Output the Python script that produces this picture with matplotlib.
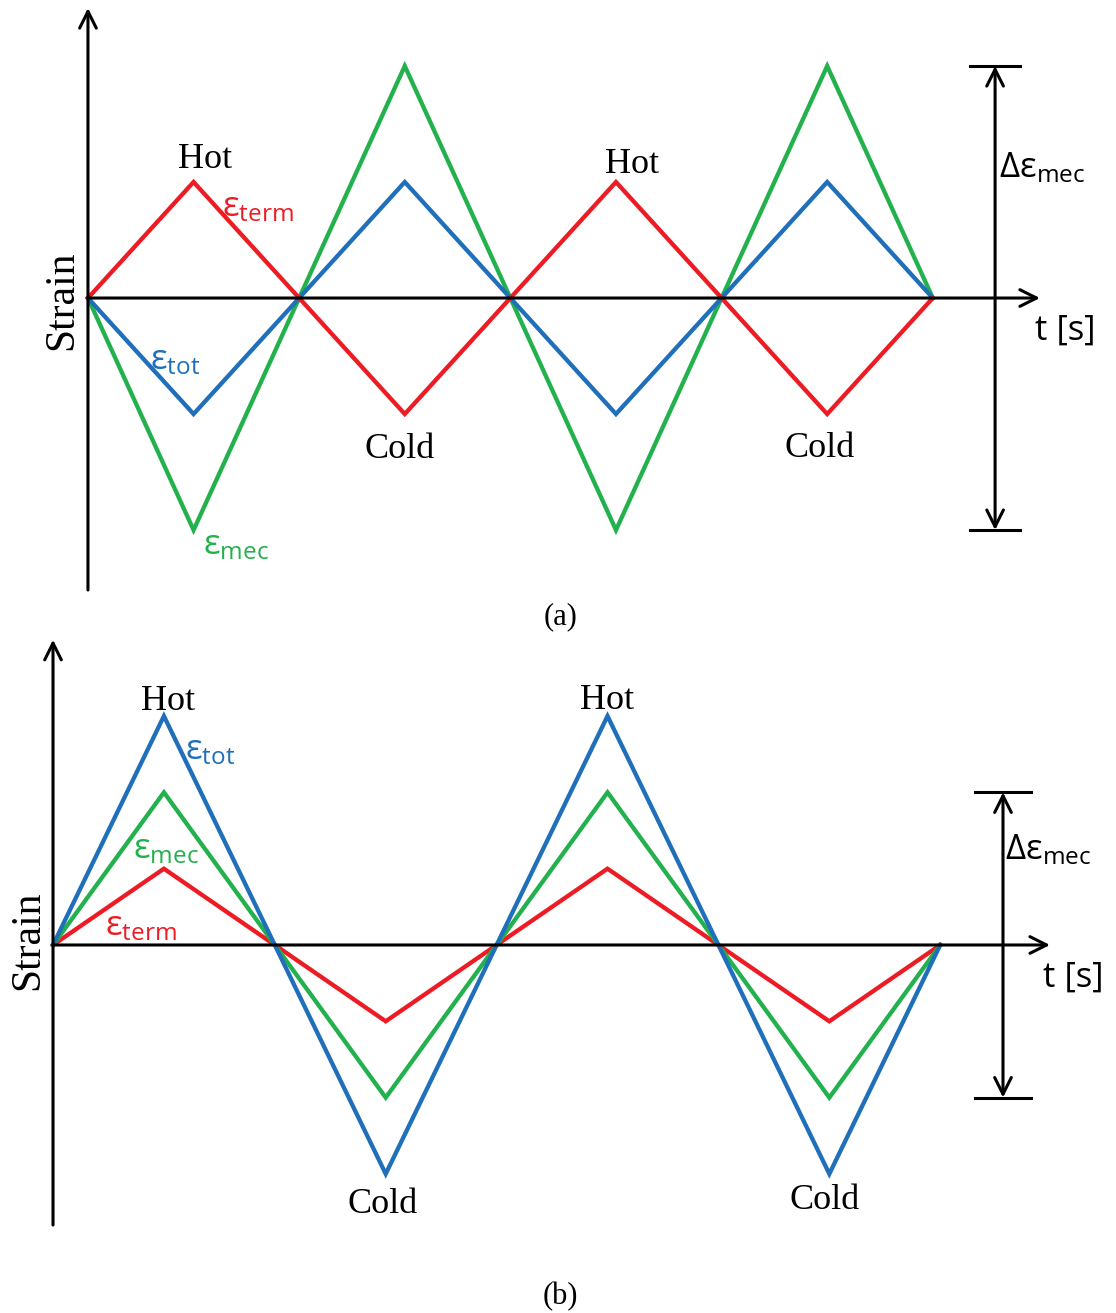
import numpy as np
import matplotlib
matplotlib.use("Agg")
import matplotlib.pyplot as plt

plt.rcParams['mathtext.fontset'] = 'custom'
plt.rcParams['mathtext.rm'] = 'Open Sans'
plt.rcParams['mathtext.it'] = 'Open Sans:italic'

RED = '#ED1C24'
BLUE = '#1F6FBA'
GREEN = '#22B14C'

# time nodes (half-cycles) and strain levels for both cases
t_a = [0, 1, 2, 3, 4, 5, 6, 7, 8]
term_a = [0, 1, 0, -1, 0, 1, 0, -1, 0]
tot_a = [0, -1, 0, 1, 0, -1, 0, 1, 0]
mec_a = [0, -2, 0, 2, 0, -2, 0, 2, 0]

t_b = [0, 1, 2, 3, 4, 5, 6, 7, 8]
tot_b = [0, 3, 0, -3, 0, 3, 0, -3, 0]
mec_b = [0, 2, 0, -2, 0, 2, 0, -2, 0]
term_b = [0, 1, 0, -1, 0, 1, 0, -1, 0]

serif = 'Liberation Serif'
sans = ['Open Sans', 'DejaVu Sans']
lw_data = 3.1
lw_axis = 2.2

fig = plt.figure(figsize=(11.16, 13.13), dpi=100)
H = 1313.0


def axes_arrows(ax, xmax, ymin, ymax, mec, tarrow, cap):
    kw = dict(arrowstyle='->', lw=lw_axis, color='black', mutation_scale=30,
              shrinkA=0, shrinkB=0)
    ax.annotate('', xy=(0, ymax), xytext=(0, ymin), arrowprops=kw)
    ax.annotate('', xy=(xmax, 0), xytext=(0, 0), arrowprops=kw)
    # range of mechanical strain
    lo, hi = min(mec), max(mec)
    kw2 = dict(kw, arrowstyle='<->')
    ax.annotate('', xy=(tarrow, hi), xytext=(tarrow, lo), arrowprops=kw2)
    ax.plot([tarrow - cap, tarrow + cap], [hi, hi], color='black', lw=lw_axis)
    ax.plot([tarrow - cap, tarrow + cap], [lo, lo], color='black', lw=lw_axis)


def eps(ax, x, y, sub, color, pre=''):
    ax.text(x, y, pre + 'ε$_{\\mathrm{' + sub + '}}$', color=color, fontsize=25,
            family=sans, ha='left', va='center')


# ---- (a) ----
ax = fig.add_axes([0, (H - 600) / H, 1, 600 / H])
ax.set_xlim(-0.833, 9.735)
ax.set_ylim(-2.603, 2.569)
ax.axis('off')
axes_arrows(ax, 9.015, -2.517, 2.5, mec_a, 8.59, 0.24)
ax.plot(t_a, mec_a, color=GREEN, lw=lw_data, solid_joinstyle='miter')
ax.plot(t_a, tot_a, color=BLUE, lw=lw_data, solid_joinstyle='miter')
ax.plot(t_a, term_a, color=RED, lw=lw_data, solid_joinstyle='miter')
for x, y in [(1.108, 1.19), (5.15, 1.15)]:
    ax.text(x, y, 'Hot', family=serif, fontsize=26, ha='center', va='center')
for x, y in [(2.955, -1.31), (6.93, -1.30)]:
    ax.text(x, y, 'Cold', family=serif, fontsize=26, ha='center', va='center')
eps(ax, 1.269, 0.78, 'term', RED)
eps(ax, 0.587, -0.54, 'tot', BLUE)
eps(ax, 1.089, -2.13, 'mec', GREEN)
eps(ax, 8.63, 1.12, 'mec', 'black', pre='Δ')
ax.text(8.968, -0.28, 't [s]', family=sans, fontsize=25, ha='left', va='center')
ax.text(-0.246, -0.02, 'Strain', family=serif, fontsize=30, rotation=90,
        ha='center', va='center')

# ---- (b) ----
ax = fig.add_axes([0, 0, 1, (H - 630) / H])
ax.set_xlim(-0.478, 9.585)
ax.set_ylim(-4.823, 4.128)
ax.axis('off')
axes_arrows(ax, 8.99, -3.67, 4.0, mec_b, 8.566, 0.25)
ax.plot(t_b, term_b, color=RED, lw=lw_data, solid_joinstyle='miter')
ax.plot(t_b, mec_b, color=GREEN, lw=lw_data, solid_joinstyle='miter')
ax.plot(t_b, tot_b, color=BLUE, lw=lw_data, solid_joinstyle='miter')
for x, y in [(1.037, 3.19), (4.995, 3.21)]:
    ax.text(x, y, 'Hot', family=serif, fontsize=26, ha='center', va='center')
for x, y in [(2.976, -3.40), (6.961, -3.35)]:
    ax.text(x, y, 'Cold', family=serif, fontsize=26, ha='center', va='center')
eps(ax, 1.19, 2.55, 'tot', BLUE)
eps(ax, 0.721, 1.26, 'mec', GREEN)
eps(ax, 0.469, 0.25, 'term', RED)
eps(ax, 8.58, 1.25, 'mec', 'black', pre='Δ')
ax.text(8.927, -0.43, 't [s]', family=sans, fontsize=25, ha='left', va='center')
ax.text(-0.225, 0.066, 'Strain', family=serif, fontsize=30, rotation=90,
        ha='center', va='center')

fig.text(561 / 1116, 1 - 617 / H, '(a)', family=serif, fontsize=22,
         ha='center', va='center')
fig.text(560 / 1116, 1 - 1297 / H, '(b)', family=serif, fontsize=22,
         ha='center', va='center')

fig.savefig('out.png', dpi=100, facecolor='white')
